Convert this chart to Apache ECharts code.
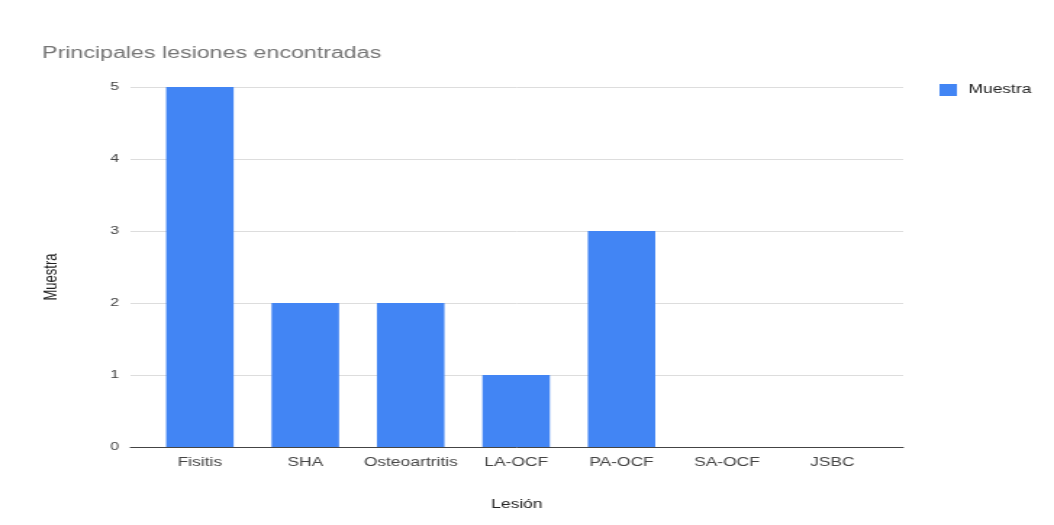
<!DOCTYPE html>
<html>
<head>
<meta charset="utf-8">
<script src="https://cdn.jsdelivr.net/npm/echarts@6/dist/echarts.min.js"></script>
<style>
  html, body { margin: 0; padding: 0; background: #fff; overflow: hidden; }
  /* the chart is laid out on a narrower canvas and widened to fill the page */
  #chart { width: 727px; height: 525px; transform: scaleX(1.4498); transform-origin: 0 0; }
</style>
</head>
<body>
<div id="chart"></div>
<script>
// Injuries found and how many cases each one had
const categories = ['Fisitis', 'SHA', 'Osteoartritis', 'LA-OCF', 'PA-OCF', 'SA-OCF', 'JSBC'];
const muestra = [5, 2, 2, 1, 3, 0, 0];
const yTicks = [0, 1, 2, 3, 4, 5];

const FONT = 'Liberation Sans, Arial, sans-serif';
const chart = echarts.init(document.getElementById('chart'), null, { renderer: 'canvas' });

chart.setOption({
  backgroundColor: '#ffffff',
  animation: false,
  textStyle: { fontFamily: FONT },
  title: {
    text: 'Principales lesiones encontradas',
    left: 24,
    top: 41,
    textStyle: { fontFamily: FONT, fontSize: 16, fontWeight: 'normal', color: '#757575' }
  },
  legend: {
    data: ['Muestra'],
    left: 643,
    top: 79,
    icon: 'rect',
    itemWidth: 12,
    itemHeight: 12,
    textStyle: { fontFamily: FONT, fontSize: 12, color: '#222222', padding: [0, 0, 0, 3] }
  },
  graphic: [
    {
      type: 'text',
      x: 35,
      y: 277,
      rotation: Math.PI / 2,
      style: {
        text: 'Muestra',
        font: '13px ' + FONT,
        fill: '#222222',
        align: 'center',
        verticalAlign: 'middle'
      }
    }
  ],
  grid: [
    // frame with gridlines, value labels and baseline
    { left: 90, right: 104, top: 87, bottom: 78 },
    // bars
    { left: 101.5, right: 116.5, top: 87, bottom: 78 }
  ],
  xAxis: [
    {
      gridIndex: 0,
      type: 'value',
      min: 0,
      max: 1,
      name: 'Lesión',
      nameLocation: 'middle',
      nameGap: 52,
      nameTextStyle: { fontFamily: FONT, fontSize: 12, color: '#222222' },
      axisLine: { show: true, lineStyle: { color: '#444444', width: 1 } },
      axisTick: { show: false },
      axisLabel: { show: false },
      splitLine: { show: false }
    },
    {
      gridIndex: 1,
      type: 'category',
      data: categories,
      axisLine: { show: false },
      axisTick: { show: false },
      axisLabel: { fontFamily: FONT, fontSize: 12, color: '#444444', margin: 10, interval: 0 },
      splitLine: { show: false }
    }
  ],
  yAxis: [
    {
      gridIndex: 0,
      type: 'value',
      min: yTicks[0],
      max: yTicks[yTicks.length - 1],
      interval: 1,
      axisLine: { show: false },
      axisTick: { show: false },
      axisLabel: { fontFamily: FONT, fontSize: 11, color: '#444444', margin: 8 },
      splitLine: { show: true, lineStyle: { color: '#dddddd', width: 1 } }
    },
    {
      gridIndex: 1,
      type: 'value',
      min: yTicks[0],
      max: yTicks[yTicks.length - 1],
      interval: 1,
      show: false,
      splitLine: { show: false }
    }
  ],
  series: [
    {
      name: 'Muestra',
      type: 'bar',
      xAxisIndex: 1,
      yAxisIndex: 1,
      data: muestra,
      barCategoryGap: '36%',
      itemStyle: { color: '#4285F4' },
      z: 1
    }
  ]
});
</script>
</body>
</html>
